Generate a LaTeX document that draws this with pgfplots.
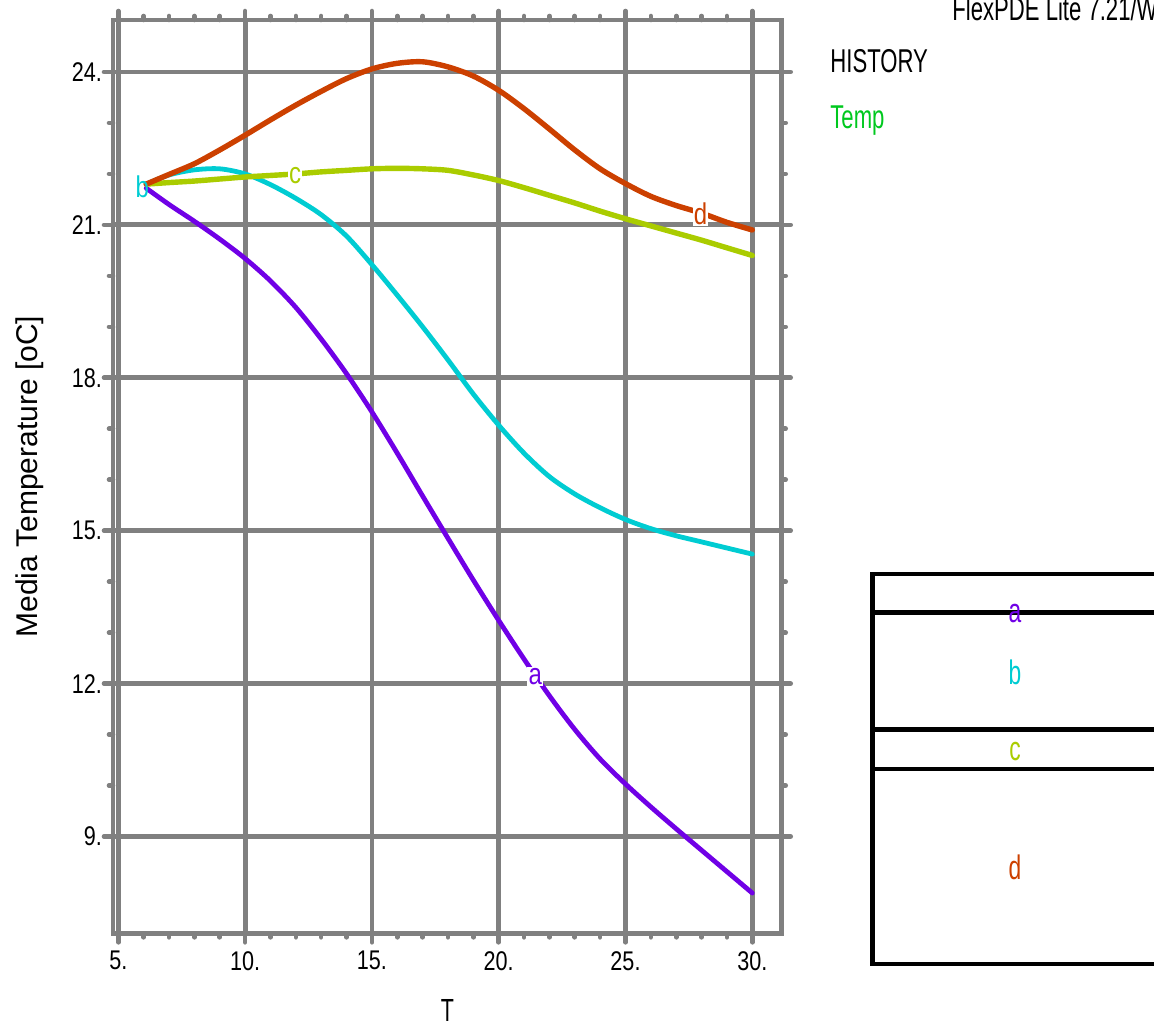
\documentclass[border=0pt]{standalone}
\usepackage{fontspec}
\setmainfont{Liberation Sans}
\newfontfamily\narrowfont[FakeStretch=0.8]{Liberation Sans}
\newfontfamily\condfont[FakeStretch=0.67]{Liberation Sans}
\usepackage{pgfplots}
\pgfplotsset{compat=1.18}

\definecolor{gridgray}{RGB}{128,128,128}
\definecolor{cA}{RGB}{112,0,230}
\definecolor{cB}{RGB}{0,204,210}
\definecolor{cC}{RGB}{170,204,0}
\definecolor{cD}{RGB}{204,64,0}
\definecolor{tempgreen}{RGB}{0,200,30}

\begin{document}
\begin{tikzpicture}[x=0.5pt,y=0.5pt]
\useasboundingbox (0,0) rectangle (1154,1025);
\clip (0,0) rectangle (1154,1025);
\begin{axis}[
    at={(56.5pt,45.85pt)}, anchor=south west,
    scale only axis, width=334.35pt, height=456.65pt,
    xmin=4.79, xmax=31.16, ymin=7.1, ymax=25.02,
    xtick={5,10,...,30}, xticklabels={5.,10.,15.,20.,25.,30.},
    ytick={9,12,...,24}, yticklabels={9.,12.,15.,18.,21.,24.},
    minor x tick num=4, minor y tick num=2,
    tick align=outside, tickpos=both,
    major tick length=4.5pt, minor tick length=2pt,
    tick style={gridgray, line width=2.3pt, line cap=round},
    grid=major, major grid style={gridgray, line width=2.4pt},
    axis line style={gridgray, line width=2.4pt},
    ticklabel style={font=\narrowfont\fontsize{13.5}{14}\selectfont, text=black},
    yticklabel style={xshift=2.5pt},
    xticklabel style={yshift=-1pt},
    xlabel={T}, ylabel={Media Temperature [oC]},
    xlabel style={font=\condfont\fontsize{16}{16}\selectfont, at={(axis description cs:0.5,-0.084)}, anchor=center},
    ylabel style={font=\fontsize{15}{15}\selectfont, at={(axis description cs:-0.124,0.5)}, anchor=center},
]
% a
\addplot[cA, line width=2.4pt, smooth, line cap=round] coordinates {
    (6.1,21.72) (7,21.40) (8,21.07) (9,20.72) (10,20.34) (11,19.90) (12,19.38)
    (13,18.76) (14,18.08) (15,17.33) (16,16.52) (17,15.68) (18,14.85) (19,14.03)
    (20,13.24) (21,12.48) (22,11.76) (23,11.10) (24,10.52) (25,10.03) (26,9.58)
    (27,9.15) (28,8.73) (29,8.31) (30,7.89)
};
% b
\addplot[cB, line width=2.4pt, smooth, line cap=round] coordinates {
    (6.1,21.8) (7,21.98) (8,22.08) (9,22.1) (10,22.0) (11,21.79) (12,21.52)
    (13,21.2) (14,20.78) (15,20.22) (16,19.62) (17,19.0) (18,18.35) (19,17.68)
    (20,17.07) (21,16.52) (22,16.06) (23,15.72) (24,15.45) (25,15.22) (26,15.04)
    (27,14.9) (28,14.78) (29,14.66) (30,14.54)
};
% c
\addplot[cC, line width=2.7pt, smooth, line cap=round] coordinates {
    (6.1,21.8) (7,21.83) (8,21.86) (9,21.9) (10,21.94) (11,21.97) (12,22.0)
    (13,22.04) (14,22.07) (15,22.1) (16,22.11) (17,22.1) (18,22.07) (19,21.98)
    (20,21.87) (21,21.73) (22,21.58) (23,21.43) (24,21.27) (25,21.12) (26,20.98)
    (27,20.84) (28,20.7) (29,20.55) (30,20.4)
};
% d
\addplot[cD, line width=2.7pt, smooth, line cap=round] coordinates {
    (6.1,21.8) (7,21.99) (8,22.2) (9,22.47) (10,22.76) (11,23.06) (12,23.35)
    (13,23.62) (14,23.87) (15,24.06) (16,24.17) (17,24.2) (18,24.1) (19,23.92)
    (20,23.64) (21,23.28) (22,22.88) (23,22.47) (24,22.1) (25,21.81) (26,21.56)
    (27,21.38) (28,21.23) (29,21.05) (30,20.9)
};
% curve labels
\node[fill=white, inner sep=0.6pt, text=cA, font=\narrowfont\fontsize{15}{15}\selectfont] at (axis cs:21.44,12.14) {a};
\node[inner sep=0pt, text=cB, font=\narrowfont\fontsize{15}{15}\selectfont] at (axis cs:5.95,21.74) {b};
\node[fill=white, inner sep=0.6pt, text=cC, font=\narrowfont\fontsize{15}{15}\selectfont] at (axis cs:11.97,21.97) {c};
\node[fill=white, inner sep=0.6pt, text=cD, font=\narrowfont\fontsize{15}{15}\selectfont] at (axis cs:27.96,21.22) {d};
\end{axis}

% header texts
\node[anchor=base west, inner sep=0pt, font=\condfont\fontsize{16.5}{16}\selectfont] at (952,1004) {FlexPDE Lite 7.21/W64};
\node[anchor=base west, inner sep=0pt, font=\condfont\fontsize{16.5}{16}\selectfont] at (830,952) {HISTORY};
\node[anchor=base west, inner sep=0pt, text=tempgreen, font=\condfont\fontsize{16.5}{16}\selectfont] at (830,896) {Temp};

% key box
\draw[black, line width=2.4pt] (1170,451) -- (872.3,451) -- (872.3,61) -- (1170,61);
\draw[black, line width=2.4pt] (872.3,412.7) -- (1170,412.7);
\draw[black, line width=2.4pt] (872.3,295.7) -- (1170,295.7);
\draw[black, line width=2.4pt] (872.3,256) -- (1170,256);
\node[text=cA, font=\condfont\fontsize{17}{17}\selectfont] at (1015,411) {a};
\node[text=cB, font=\condfont\fontsize{17}{17}\selectfont] at (1015,353) {b};
\node[text=cC, font=\condfont\fontsize{17}{17}\selectfont] at (1015,273) {c};
\node[text=cD, font=\condfont\fontsize{17}{17}\selectfont] at (1015,158) {d};
\end{tikzpicture}
\end{document}
